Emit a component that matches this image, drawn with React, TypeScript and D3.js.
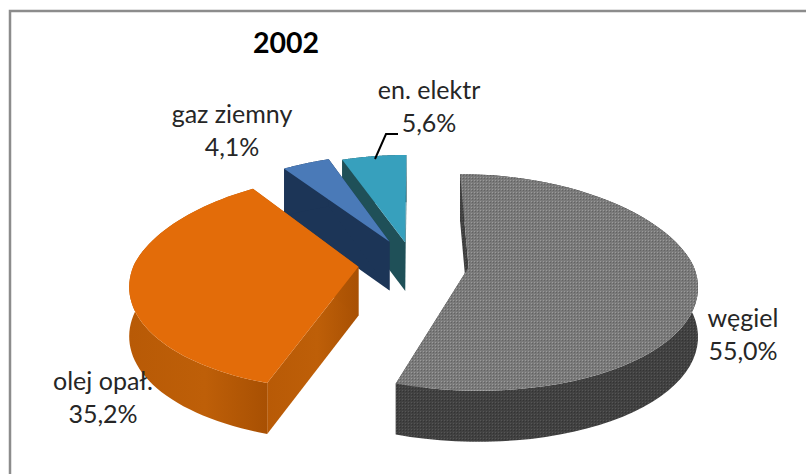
import { useEffect, useRef } from "react"
import * as d3 from "d3"

const W = 806
const H = 474

const categories = ["węgiel", "olej opał.", "gaz ziemny", "en. elektr"]
const shares = [55.0, 35.2, 4.1, 5.6]
const shareLabels = ["55,0%", "35,2%", "4,1%", "5,6%"]
const explode = [0.25, 0.245, 0.235, 0.205]
const topColors = ["url(#coalTop)", "#e36c09", "#4a7ab8", "#37a0bd"]
const wallColors = ["url(#coalWall)", "url(#oilWall)", "#1c3557", "#1f5058"]
const labelPos = [
  [743, 327],
  [103, 390],
  [232, 123],
  [429, 99],
]

type Pt = [number, number]

// pie seen from above, with a little perspective
const cx = 413
const cy = 263
const rx = 224
const ry = 105
const persp = 0.14
const depth = 49

function project(x: number, y: number): Pt {
  const wx = 1 + (y > 0 ? 0.18 : 0.15) * y
  return [cx + (rx * x) / wx, cy - (ry * y) / (1 + persp * y)]
}

export default function App() {
  const ref = useRef<SVGSVGElement>(null)

  useEffect(() => {
    const svg = d3.select(ref.current)
    svg.selectAll("*").remove()

    const defs = svg.append("defs")
    const pat = (id: string, base: string, light: string, dark: string) => {
      const p = defs.append("pattern").attr("id", id).attr("width", 3).attr("height", 3)
        .attr("patternUnits", "userSpaceOnUse")
      p.append("rect").attr("width", 3).attr("height", 3).attr("fill", base)
      p.append("rect").attr("width", 1).attr("height", 1).attr("fill", light)
      p.append("rect").attr("x", 1).attr("y", 1).attr("width", 1).attr("height", 1).attr("fill", dark)
    }
    pat("coalTop", "#7a7a7a", "#9a9a9a", "#626262")
    pat("coalWall", "#414141", "#565656", "#333333")

    const oil = defs.append("linearGradient").attr("id", "oilWall")
    oil.append("stop").attr("offset", "0%").attr("stop-color", "#b85a06")
    oil.append("stop").attr("offset", "55%").attr("stop-color", "#be5f08")
    oil.append("stop").attr("offset", "100%").attr("stop-color", "#a85003")

    // frame: only the top and left edges fall inside the picture
    svg.append("rect").attr("width", W).attr("height", H).attr("fill", "#fff")
    svg.append("path").attr("d", `M10,${H}V11H${W}`)
      .attr("fill", "none").attr("stroke", "#8c8c8c").attr("stroke-width", 2.5)

    const pie = d3.pie<number>().sort(null).startAngle(0).endAngle(2 * Math.PI)
    const arcs = pie(shares)
    const line = d3.line<Pt>().curve(d3.curveLinear)

    // back slices first, so the nearer ones cover them
    const order = [3, 2, 1, 0]
    order.forEach((i) => {
      const a = arcs[i]
      const mid = (a.startAngle + a.endAngle) / 2
      const ox = explode[i] * Math.sin(mid)
      const oy = explode[i] * Math.cos(mid)
      const ang = d3.range(0, 61).map((k) => a.startAngle + ((a.endAngle - a.startAngle) * k) / 60)
      const rim = ang.map((t) => project(ox + Math.sin(t), oy + Math.cos(t)))
      const apex = project(ox, oy)
      const g = svg.append("g")
      const drop = (p: Pt[]) => p.map(([x, y]) => [x, y + depth * (1 - persp * 0.25 * (cy - y) / ry)] as Pt)
      const wall = (p: Pt[]) => g.append("path")
        .attr("d", line([...p, ...drop(p).reverse()]) + "Z")
        .attr("fill", wallColors[i])
      wall([apex, rim[0]])
      wall([apex, rim[rim.length - 1]])
      wall(rim)
      g.append("path")
        .attr("d", line([apex, ...rim]) + "Z")
        .attr("fill", topColors[i])
    })

    svg.append("path")
      .attr("d", "M375,159L386,134H398")
      .attr("fill", "none").attr("stroke", "#000").attr("stroke-width", 2)

    svg.append("text").attr("x", 286).attr("y", 53).attr("text-anchor", "middle")
      .attr("font-size", 28.5).attr("font-weight", 700).attr("fill", "#000").text("2002")

    categories.forEach((c, i) => {
      const t = svg.append("text").attr("text-anchor", "middle").attr("font-size", 25).attr("fill", "#262626")
      t.append("tspan").attr("x", labelPos[i][0]).attr("y", labelPos[i][1]).text(c)
      t.append("tspan").attr("x", labelPos[i][0]).attr("y", labelPos[i][1] + 33).text(shareLabels[i])
    })
  }, [])

  return (
    <svg
      ref={ref}
      width={W}
      height={H}
      style={{ position: "absolute", left: 0, top: 0, fontFamily: "Lato, sans-serif" }}
    />
  )
}
